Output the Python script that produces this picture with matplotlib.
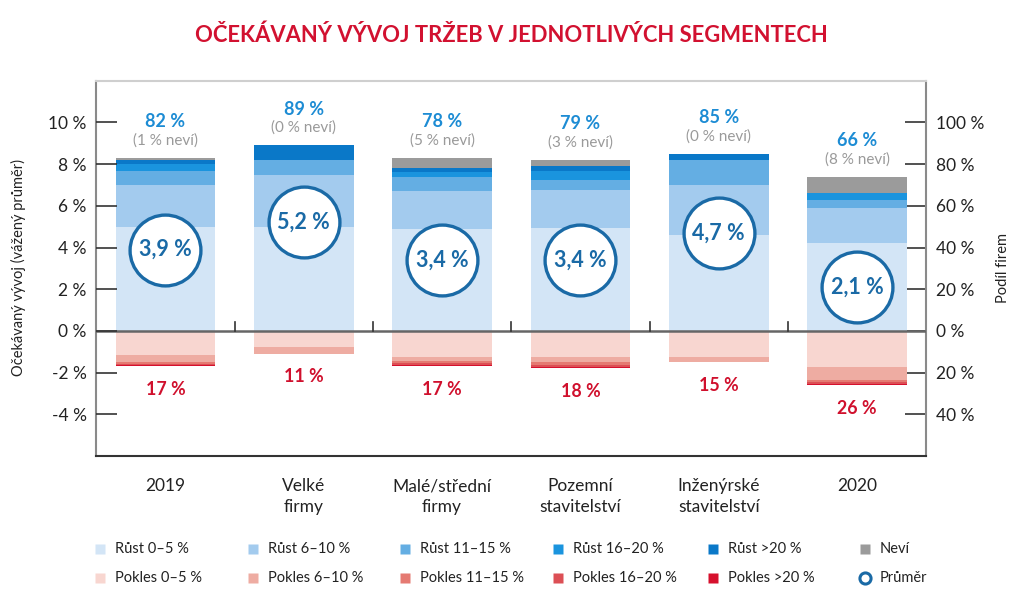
import matplotlib

matplotlib.use("Agg")

import matplotlib.pyplot as plt
import numpy as np
from matplotlib.lines import Line2D

plt.rcParams["font.family"] = ["Lato", "DejaVu Sans"]

# --- data ---
categories = ["2019", "Velké\nfirmy", "Malé/střední\nfirmy", "Pozemní\nstavitelství",
              "Inženýrské\nstavitelství", "2020"]

rust_0_5 = [50, 50, 49, 49.5, 46, 42]
rust_6_10 = [20, 25, 18, 18, 24, 17]
rust_11_15 = [6.5, 7, 7, 5, 12, 4]
rust_16_20 = [3.5, 0, 2, 4, 0, 3]
rust_nad_20 = [2, 7, 2, 2.5, 3, 0]
nevi = [1, 0, 5, 3, 0, 8]

pokles_0_5 = [11.5, 7.5, 12.5, 12.5, 12.5, 17.5]
pokles_6_10 = [3.5, 3.5, 2, 2.5, 2.5, 6]
pokles_11_15 = [1, 0, 1, 1.5, 0, 1]
pokles_16_20 = [0.5, 0, 1, 1, 0, 1]
pokles_nad_20 = [0.5, 0, 0.5, 0.5, 0, 0.5]

prumer = [3.9, 5.2, 3.4, 3.4, 4.7, 2.1]
rust_total = [82, 89, 78, 79, 85, 66]
nevi_total = [1, 0, 5, 3, 0, 8]
pokles_total = [17, 11, 17, 18, 15, 26]

left_ticks = [-4, -2, 0, 2, 4, 6, 8, 10]
right_ticks = [-40, -20, 0, 20, 40, 60, 80, 100]

rust_labels = ["Růst 0–5 %", "Růst 6–10 %", "Růst 11–15 %", "Růst 16–20 %", "Růst >20 %", "Neví"]
pokles_labels = ["Pokles 0–5 %", "Pokles 6–10 %", "Pokles 11–15 %", "Pokles 16–20 %",
                 "Pokles >20 %", "Průměr"]

# --- style ---
RUST_COLORS = ["#d3e5f6", "#a3cbee", "#64aee3", "#1a94de", "#0a78c8", "#9b9b9b"]
POKLES_COLORS = ["#f8d6d0", "#eeaca2", "#e57a72", "#dc4f55", "#d6102d"]
CIRCLE = "#1a6aa6"
BLUE_TXT = "#1d8cd4"
RED_TXT = "#d0102d"
GREY_TXT = "#9a9a9a"
DARK = "#222222"
WIDTH = 0.72
TICKS = dict(direction="in", length=15, width=1.2, color="#333333",
             pad=7, labelsize=12.5, labelcolor=DARK)

fig = plt.figure(figsize=(10.23, 6.04), dpi=100)
ax = fig.add_axes([0.0941, 0.245, 0.8114, 0.6214])
# twin first: twinx() moves the host's ticks to the left
axl = ax.twinx()
x = np.arange(len(categories))

growth = [rust_0_5, rust_6_10, rust_11_15, rust_16_20, rust_nad_20, nevi]
bottom = np.zeros(len(x))
for vals, color in zip(growth, RUST_COLORS):
    vals = np.asarray(vals, dtype=float)
    ax.bar(x, vals, WIDTH, bottom=bottom, color=color, linewidth=0, zorder=2)
    bottom += vals
top = bottom.copy()

decline = [pokles_0_5, pokles_6_10, pokles_11_15, pokles_16_20, pokles_nad_20]
bottom = np.zeros(len(x))
for vals, color in zip(decline, POKLES_COLORS):
    vals = np.asarray(vals, dtype=float)
    ax.bar(x, -vals, WIDTH, bottom=-bottom, color=color, linewidth=0, zorder=2)
    bottom += vals
low = bottom.copy()

ax.set_xlim(-0.5, len(x) - 0.5)
ax.set_ylim(-60, 120)
ax.axhline(0, color="#666666", lw=1.8, zorder=3)
for b in x[:-1] + 0.5:
    ax.plot([b, b], [0, 4.5], color="#333333", lw=1.2, zorder=3)

for xi, t, n, tp in zip(x, rust_total, nevi_total, top):
    ax.annotate(f"{t} %", (xi, tp), xytext=(0, 26), textcoords="offset points",
                ha="center", va="center", color=BLUE_TXT, fontsize=13, fontweight="bold")
    ax.annotate(f"({n} % neví)", (xi, tp), xytext=(0, 12.5), textcoords="offset points",
                ha="center", va="center", color=GREY_TXT, fontsize=11)
for xi, t, lo in zip(x, pokles_total, low):
    ax.annotate(f"{t} %", (xi, -lo), xytext=(0, -16.5), textcoords="offset points",
                ha="center", va="center", color=RED_TXT, fontsize=12.8, fontweight="bold")

ax.yaxis.tick_right()
ax.set_yticks(right_ticks, [f"{abs(v)} %" for v in right_ticks])
ax.tick_params(axis="y", **TICKS)
ax.set_xticks(x, categories)
ax.tick_params(axis="x", length=0, pad=16, labelsize=12.5, labelcolor=DARK)
for lab in ax.get_xticklabels():
    lab.set_linespacing(1.35)

ax.spines["top"].set_color("#cfcfcf")
ax.spines["bottom"].set_color("#333333")
ax.spines["left"].set_color("#8a8a8a")
ax.spines["right"].set_color("#8a8a8a")
for s in ax.spines.values():
    s.set_linewidth(1.5)

# left axis: weighted average
axl.set_ylim(-6, 12)
for s in axl.spines.values():
    s.set_visible(False)
axl.yaxis.tick_left()
axl.set_yticks(left_ticks, [f"{v} %" for v in left_ticks])
axl.tick_params(axis="y", **TICKS)
axl.plot(x, prumer, "o", ms=51, mfc="white", mec=CIRCLE, mew=2.4, zorder=4)
for xi, p in zip(x, prumer):
    axl.text(xi, p, f"{p:.1f} %".replace(".", ","), ha="center", va="center",
             color=CIRCLE, fontsize=15.5, fontweight="bold", zorder=5)

fig.text(18 / 1023, 1 - 268 / 604, "Očekávaný vývoj (vážený průměr)", rotation=90,
         ha="center", va="center", fontsize=10.5, color=DARK)
fig.text(1003 / 1023, 1 - 268 / 604, "Podíl firem", rotation=90,
         ha="center", va="center", fontsize=10.5, color=DARK)
fig.text(0.5, 1 - 35 / 604, "OČEKÁVANÝ VÝVOJ TRŽEB V JEDNOTLIVÝCH SEGMENTECH",
         ha="center", va="center", fontsize=15.8, fontweight="bold", color="#d21130")

# legend, drawn by hand on a fixed grid
col_x = [100, 253, 405, 558, 713, 865]
row_y = [549, 578]
for row, (labels, colors) in enumerate([(rust_labels, RUST_COLORS),
                                        (pokles_labels, POKLES_COLORS + [None])]):
    for cx, label, color in zip(col_x, labels, colors):
        fx, fy = cx / 1023, 1 - row_y[row] / 604
        if color is None:
            mk = Line2D([fx], [fy], marker="o", ms=8, mfc="white", mec=CIRCLE, mew=2.2,
                        transform=fig.transFigure)
        else:
            mk = Line2D([fx], [fy], marker="s", ms=7, mfc=color, mec="none",
                        transform=fig.transFigure)
        fig.add_artist(mk)
        fig.text(fx + 15 / 1023, fy, label, ha="left", va="center", fontsize=10.5, color=DARK)

fig.savefig("out.png", dpi=100)
